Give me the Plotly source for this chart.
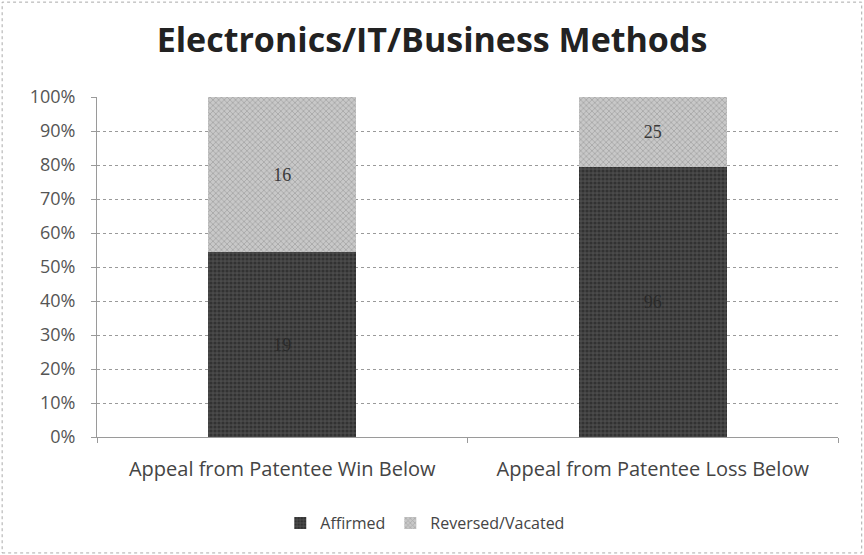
import plotly.graph_objects as go

categories = ["Appeal from Patentee Win Below", "Appeal from Patentee Loss Below"]
affirmed = [19, 96]
reversed_vacated = [16, 25]
y_ticks = [0, 10, 20, 30, 40, 50, 60, 70, 80, 90, 100]
y_tick_labels = [f"{v}%" for v in y_ticks]

fig = go.Figure()
fig.add_trace(go.Bar(
    name="Affirmed", x=categories, y=affirmed,
    text=[str(v) for v in affirmed], textposition="inside", insidetextanchor="middle",
    textfont=dict(color="#2a2a2a", size=18, family="Liberation Serif"),
    marker=dict(color="#3c3c3c", line=dict(width=0),
                pattern=dict(shape=".", fgcolor="#1a1a1a", bgcolor="#4a4a4a", size=4, solidity=0.5)),
    width=0.4,
))
fig.add_trace(go.Bar(
    name="Reversed/Vacated", x=categories, y=reversed_vacated,
    text=[str(v) for v in reversed_vacated], textposition="inside", insidetextanchor="middle",
    textfont=dict(color="#3a3a3a", size=18, family="Liberation Serif"),
    marker=dict(color="#b4b4b4", line=dict(width=0),
                pattern=dict(shape="x", fgcolor="#8a8a8a", bgcolor="#c8c8c8", size=4, solidity=0.4)),
    width=0.4,
))

fig.update_layout(
    barmode="stack", barnorm="percent",
    width=864, height=555,
    margin=dict(l=97, r=26, t=97, b=118),
    paper_bgcolor="white", plot_bgcolor="white",
    title=dict(text="<b>Electronics/IT/Business Methods</b>", x=0.5, xanchor="center",
               y=0.928, yanchor="middle",
               font=dict(family="Open Sans", size=34, color="#222222")),
    font=dict(family="Open Sans", color="#555555"),
    legend=dict(orientation="h", x=0.443, xanchor="center", y=-0.253, yanchor="middle",
                font=dict(size=16, color="#444444"), traceorder="normal", itemwidth=30),
    showlegend=True,
    uniformtext=dict(mode="show", minsize=10),
)
fig.update_yaxes(range=[0, 100], tickvals=y_ticks, ticktext=y_tick_labels,
                 showgrid=True, gridcolor="#9a9a9a", griddash="dot", gridwidth=1,
                 showline=True, linecolor="#9a9a9a", linewidth=1,
                 ticks="outside", ticklen=5, tickcolor="#9a9a9a", ticklabelstandoff=12,
                 tickfont=dict(size=18, color="#555555"), zeroline=False)
fig.update_xaxes(showline=True, linecolor="#9a9a9a", linewidth=1,
                 ticks="outside", ticklen=5, tickcolor="#9a9a9a", tickson="boundaries",
                 ticklabelstandoff=14,
                 tickfont=dict(size=20, color="#444444"), showgrid=False)

fig.add_shape(type="rect", xref="paper", yref="paper", x0=-0.128, x1=1.032, y0=-0.341, y1=1.279,
              line=dict(color="#aaaaaa", width=1, dash="dot"))

fig.write_html("out.html")
